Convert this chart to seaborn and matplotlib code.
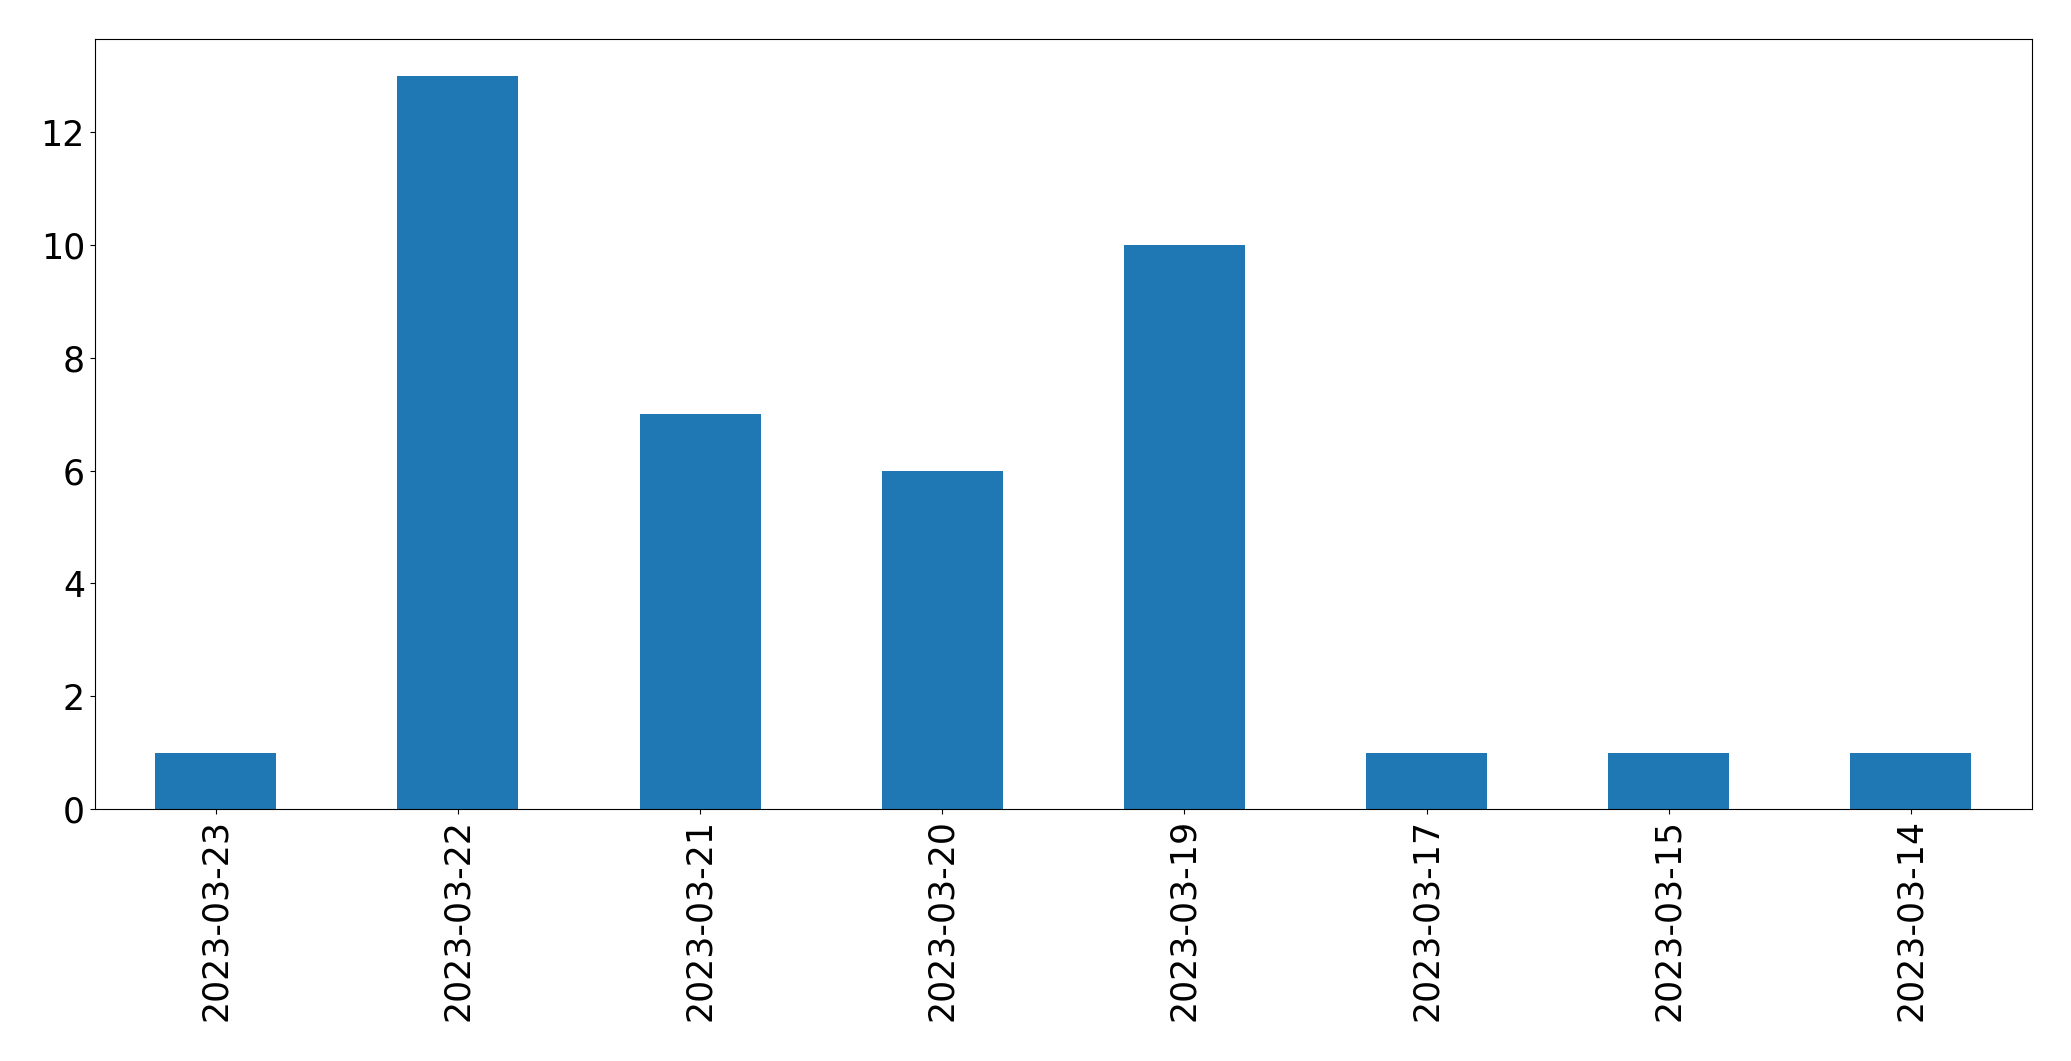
import pandas as pd
import seaborn as sns
import matplotlib.pyplot as plt

dates = ['2023-03-23', '2023-03-22', '2023-03-21', '2023-03-20',
         '2023-03-19', '2023-03-17', '2023-03-15', '2023-03-14']
counts = [1, 13, 7, 6, 10, 1, 1, 1]

df = pd.DataFrame({'date': dates, 'count': counts})

fig, ax = plt.subplots(figsize=(20.71, 10.61), dpi=100)
sns.barplot(data=df, x='date', y='count', color='#1f77b4', saturation=1,
            width=0.5, ax=ax)

ax.set_xlim(-0.5, len(dates) - 0.5)
ax.set_xlabel('')
ax.set_ylabel('')
ax.tick_params(axis='both', labelsize=25)
plt.setp(ax.get_xticklabels(), rotation=90)

plt.subplots_adjust(left=94.7 / 2071, right=2032 / 2071,
                    top=1 - 39.3 / 1061, bottom=1 - 809 / 1061)
plt.savefig('out.png', dpi=100)
